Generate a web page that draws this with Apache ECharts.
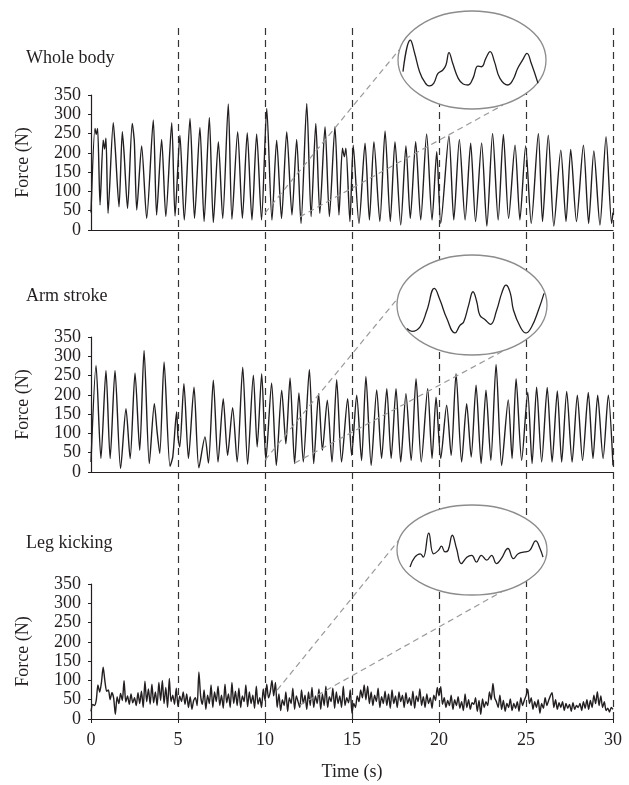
<!DOCTYPE html>
<html>
<head>
<meta charset="utf-8">
<title>Force traces</title>
<script src="https://cdn.jsdelivr.net/npm/echarts/dist/echarts.min.js"></script>
<style>
  html, body { margin: 0; padding: 0; background: #fff; }
  #chart { width: 629px; height: 785px; }
</style>
</head>
<body>
<div id="chart"></div>
<script>
// ---- data ----
const dashTimes = [5, 10, 15, 20, 25, 30]
const panelTitles = ['Whole body', 'Arm stroke', 'Leg kicking']

// whole body: [time (s), force (N)] at peaks / troughs
const wholeBody = [
  [0.0, 45], [0.23, 263], [0.3, 248], [0.38, 263], [0.52, 65], [0.7, 233], [0.78, 210], [0.86, 238],
  [0.98, 43], [1.28, 278], [1.4, 207], [1.61, 60], [1.8, 255], [1.9, 200], [2.1, 56], [2.37, 276],
  [2.49, 229], [2.63, 52], [2.91, 218], [3.2, 30], [3.58, 285], [3.77, 39], [4.06, 235], [4.3, 35],
  [4.64, 278], [4.83, 36], [5.11, 246], [5.36, 26], [5.69, 289], [5.95, 30], [6.26, 266], [6.5, 22],
  [6.8, 292], [7.03, 19], [7.32, 229], [7.57, 30], [7.89, 327], [8.1, 28], [8.43, 255], [8.7, 30],
  [8.98, 252], [9.25, 26], [9.52, 249], [9.8, 26], [10.1, 315], [10.4, 26], [10.67, 233], [10.95, 30],
  [11.25, 255], [11.55, 39], [11.82, 235], [12.07, 17], [12.4, 328], [12.65, 35], [12.92, 276], [13.15, 43],
  [13.45, 268], [13.7, 35], [14.02, 268], [14.25, 39], [14.45, 212], [14.56, 190], [14.65, 212], [14.88, 22],
  [15.07, 220], [15.4, 17], [15.75, 225], [16.0, 26], [16.26, 229], [16.6, 22], [16.9, 257], [17.2, 22],
  [17.47, 229], [17.8, 13], [18.1, 218], [18.35, 30], [18.66, 229], [18.95, 26], [19.29, 249], [19.6, 26],
  [19.87, 203], [20.1, 17], [20.57, 244], [20.85, 26], [21.17, 235], [21.5, 26], [21.82, 225], [22.1, 22],
  [22.45, 226], [22.75, 10], [23.08, 250], [23.4, 26], [23.7, 248], [24.0, 30], [24.37, 220], [24.65, 26],
  [24.98, 218], [25.3, 17], [25.71, 250], [25.95, 22], [26.28, 246], [26.6, 10], [27.0, 207], [27.3, 22],
  [27.57, 209], [27.9, 22], [28.3, 220], [28.6, 17], [28.9, 205], [29.25, 13], [29.6, 242], [29.92, 17],
  [30.0, 45]
]

// arm stroke: [time (s), force (N)]
const armStroke = [
  [0.0, 26], [0.29, 276], [0.57, 35], [0.86, 263], [1.1, 35], [1.38, 263], [1.7, 9], [2.01, 164],
  [2.25, 35], [2.53, 257], [2.8, 56], [3.05, 315], [3.35, 22], [3.64, 177], [3.8, 104], [3.95, 48],
  [4.2, 285], [4.54, 15], [4.7, 39], [4.92, 156], [5.0, 91], [5.1, 65], [5.34, 229], [5.6, 35],
  [5.92, 220], [6.2, 11], [6.55, 91], [6.75, 23], [7.03, 238], [7.3, 26], [7.6, 190], [7.85, 43],
  [8.14, 167], [8.4, 26], [8.72, 272], [9.0, 20], [9.33, 251], [9.55, 65], [9.81, 255], [10.05, 30],
  [10.38, 231], [10.65, 17], [10.96, 212], [11.2, 73], [11.44, 244], [11.7, 22], [11.95, 205], [12.2, 26],
  [12.55, 266], [12.8, 22], [13.08, 203], [13.3, 56], [13.58, 186], [13.85, 26], [14.12, 239], [14.4, 26],
  [14.75, 190], [14.98, 43], [15.27, 199], [15.55, 30], [15.8, 248], [16.1, 17], [16.42, 213], [16.7, 35],
  [17.0, 216], [17.25, 35], [17.53, 216], [17.8, 26], [18.1, 203], [18.4, 30], [18.68, 242], [18.98, 26],
  [19.35, 216], [19.6, 35], [19.83, 194], [20.1, 35], [20.44, 173], [20.7, 43], [20.98, 255], [21.3, 26],
  [21.59, 177], [21.85, 39], [22.13, 225], [22.42, 22], [22.7, 212], [22.98, 30], [23.28, 279], [23.6, 17],
  [23.98, 187], [24.2, 35], [24.43, 242], [24.75, 30], [25.1, 207], [25.35, 22], [25.61, 220], [25.9, 26],
  [26.22, 219], [26.5, 26], [26.8, 210], [27.05, 26], [27.34, 209], [27.65, 26], [27.95, 199], [28.25, 30],
  [28.58, 206], [28.85, 35], [29.12, 199], [29.43, 35], [29.73, 199], [30.0, 17]
]

// leg kicking: force (N) sampled every legStep seconds
const legStep = 0.1
const legKick = [
  20, 38, 35, 48, 88, 70, 95, 134, 98, 72,
  75, 50, 68, 55, 12, 58, 40, 66, 48, 99,
  44, 60, 38, 65, 42, 55, 35, 68, 40, 72,
  30, 98, 45, 78, 38, 90, 42, 70, 35, 95,
  48, 100, 40, 82, 30, 105, 45, 62, 38, 80,
  32, 60, 45, 70, 38, 65, 30, 58, 25, 48,
  55, 35, 122, 60, 38, 75, 25, 62, 40, 88,
  30, 70, 45, 85, 35, 62, 28, 90, 42, 65,
  30, 95, 40, 72, 35, 80, 30, 60, 45, 88,
  32, 70, 40, 62, 28, 85, 38, 55, 30, 78,
  48, 90, 55, 70, 100, 60, 95, 30, 65, 22,
  50, 35, 70, 20, 55, 40, 80, 25, 60, 45,
  30, 75, 40, 62, 25, 70, 35, 82, 30, 60,
  40, 78, 25, 65, 35, 85, 30, 58, 45, 80,
  28, 70, 40, 60, 30, 85, 35, 55, 42, 75,
  15, 40, 30, 60, 45, 75, 55, 88, 50, 85,
  40, 70, 35, 62, 45, 80, 30, 58, 40, 72,
  35, 65, 28, 75, 40, 60, 30, 70, 45, 62,
  30, 68, 40, 55, 35, 72, 28, 60, 45, 78,
  35, 58, 30, 65, 40, 55, 28, 62, 48, 82,
  60, 84, 38, 55, 30, 48, 35, 62, 25, 50,
  35, 58, 28, 45, 22, 65, 30, 50, 25, 42,
  38, 55, 20, 48, 12, 52, 30, 45, 35, 70,
  50, 92, 55, 45, 30, 62, 25, 48, 20, 40,
  30, 52, 22, 40, 28, 45, 20, 55, 35, 48,
  60, 77, 40, 55, 25, 45, 30, 50, 15, 40,
  28, 55, 35, 48, 60, 68, 30, 50, 25, 42,
  30, 45, 22, 40, 28, 38, 20, 42, 25, 35,
  30, 40, 22, 45, 28, 50, 25, 48, 30, 62,
  40, 71, 35, 60, 30, 45, 22, 28, 18, 30,
  25
]

// zoomed excerpts shown in the ellipses (time in s, force in N)
const wholeInset = [
  [10.0, 114], [10.12, 300], [10.19, 222], [10.27, 114], [10.35, 55], [10.43, 30], [10.5, 46], [10.57, 104],
  [10.65, 124], [10.7, 153], [10.75, 226], [10.81, 163], [10.9, 75], [10.98, 42], [11.06, 36], [11.14, 75],
  [11.22, 147], [11.28, 143], [11.35, 192], [11.42, 232], [11.49, 173], [11.58, 75], [11.71, 36], [11.79, 65],
  [11.87, 134], [11.95, 183], [12.02, 222], [12.09, 163], [12.2, 46]
]
const armInset = [
  [10.0, 55], [10.08, 39], [10.21, 64], [10.32, 158], [10.44, 281], [10.53, 215], [10.64, 111], [10.77, 30],
  [10.85, 73], [10.91, 92], [10.99, 187], [11.06, 262], [11.12, 206], [11.17, 130], [11.25, 106], [11.34, 79],
  [11.44, 158], [11.52, 253], [11.59, 300], [11.66, 253], [11.71, 158], [11.82, 64], [11.91, 30], [12.0, 64],
  [12.11, 158], [12.2, 253]
]
const legInset = [
  [10.0, 30], [10.08, 56], [10.17, 65], [10.22, 56], [10.31, 120], [10.39, 65], [10.47, 74], [10.52, 85],
  [10.58, 70], [10.63, 74], [10.7, 114], [10.77, 79], [10.85, 39], [10.94, 56], [11.02, 61], [11.1, 43],
  [11.18, 61], [11.27, 48], [11.35, 61], [11.43, 39], [11.51, 52], [11.62, 79], [11.71, 52], [11.79, 65],
  [11.9, 70], [11.98, 74], [12.08, 99], [12.15, 79], [12.2, 56]
]
// where the grey lead lines leave each trace [time, force]
const leadFrom = [
  [[10.0, 44], [12.0, 34]],
  [[10.0, 31], [11.7, 23]],
  [[10.7, 75], [12.0, 36]]
]

// ---- layout ----
const ink = '#231f20'
const serif = 'Liberation Serif'
const plotTops = [95, 337, 584]
const titleTops = [49, 287, 534]
const ellipses = [
  { cx: 472, cy: 60, rx: 74, ry: 49, ends: [[399, 50], [503, 105]] },
  { cx: 472, cy: 305, rx: 75, ry: 50, ends: [[398, 298], [503, 351]] },
  { cx: 472, cy: 550, rx: 75, ry: 45, ends: [[399, 540], [503, 591]] }
]
const insetBoxes = [
  { left: 403, top: 40, width: 135, height: 46, min: 30, max: 300 },
  { left: 407, top: 285, width: 137, height: 48, min: 30, max: 300 },
  { left: 410, top: 533, width: 133, height: 34, min: 30, max: 120 }
]

const legData = legKick.map((v, i) => [+(i * legStep).toFixed(1), v])
const traces = [wholeBody, armStroke, legData]
const insets = [wholeInset, armInset, legInset]

const grid = []
const xAxis = []
const yAxis = []
const series = []

plotTops.forEach((top, i) => {
  const last = i === 2
  grid.push({ left: 91, width: 522, top: top, height: 135 })
  xAxis.push({
    type: 'value', gridIndex: i, min: 0, max: 30, interval: 5,
    axisLine: { show: true, lineStyle: { color: ink, width: 1.2 } },
    axisTick: { show: last, length: 4, lineStyle: { color: ink } },
    axisLabel: { show: last, margin: 12, color: ink, fontFamily: serif, fontSize: 18 },
    splitLine: { show: false },
    name: last ? 'Time (s)' : '',
    nameLocation: 'middle',
    nameGap: 44,
    nameTextStyle: { color: ink, fontFamily: serif, fontSize: 18 }
  })
  yAxis.push({
    type: 'value', gridIndex: i, min: 0, max: 350, interval: 50,
    axisLine: { show: true, lineStyle: { color: ink, width: 1.2 } },
    axisTick: { show: true, length: 3, lineStyle: { color: ink } },
    axisLabel: { margin: 10, color: ink, fontFamily: serif, fontSize: 18 },
    splitLine: { show: false },
    name: 'Force (N)',
    nameLocation: 'middle',
    nameGap: 59,
    nameTextStyle: { color: ink, fontFamily: serif, fontSize: 18 }
  })
  series.push({
    type: 'line', xAxisIndex: i, yAxisIndex: i, data: traces[i],
    showSymbol: false, smooth: 0.25, z: 2, silent: true,
    lineStyle: { color: ink, width: 1.4 }
  })
})

// full-height grid that only carries the dashed time markers
grid.push({ left: 91, width: 522, top: 28, height: 691 })
xAxis.push({ type: 'value', gridIndex: 3, min: 0, max: 30, show: false })
yAxis.push({ type: 'value', gridIndex: 3, min: 0, max: 1, show: false })
series.push({
  type: 'line', xAxisIndex: 3, yAxisIndex: 3, data: [[0, 0]], showSymbol: false,
  lineStyle: { opacity: 0 }, z: 1, silent: true,
  markLine: {
    silent: true, z: 1, symbol: ['none', 'none'],
    label: { show: false },
    lineStyle: { type: [7, 5], color: '#333', width: 1.2 },
    data: dashTimes.map(t => ({ xAxis: t }))
  }
})

// inset grids inside the ellipses
insetBoxes.forEach((b, i) => {
  const k = 4 + i
  grid.push({ left: b.left, top: b.top, width: b.width, height: b.height })
  xAxis.push({ type: 'value', gridIndex: k, min: 10, max: 12.2, show: false })
  yAxis.push({ type: 'value', gridIndex: k, min: b.min, max: b.max, show: false })
  series.push({
    type: 'line', xAxisIndex: k, yAxisIndex: k, data: insets[i],
    showSymbol: false, smooth: 0.45, z: 10, silent: true,
    lineStyle: { color: ink, width: 1.3 }
  })
})

const chart = echarts.init(document.getElementById('chart'), null, { renderer: 'canvas' })
chart.setOption({
  animation: false,
  backgroundColor: '#fff',
  title: panelTitles.map((t, i) => ({
    text: t, left: 26, top: titleTops[i], padding: 0,
    textStyle: { color: ink, fontFamily: serif, fontSize: 18, fontWeight: 'normal' }
  })),
  grid: grid,
  xAxis: xAxis,
  yAxis: yAxis,
  series: series
})

// ellipses and grey lead lines (need pixel positions of the traces)
const graphics = []
ellipses.forEach((e, i) => {
  leadFrom[i].forEach((pt, j) => {
    const p = chart.convertToPixel({ gridIndex: i }, pt)
    graphics.push({
      type: 'line', id: 'lead' + i + j, z: 3, silent: true,
      shape: { x1: p[0], y1: p[1], x2: e.ends[j][0], y2: e.ends[j][1] },
      style: { stroke: '#9a9a9a', lineWidth: 1.2, lineDash: [6, 4] }
    })
  })
  graphics.push({
    type: 'ellipse', id: 'ell' + i, z: 8, silent: true,
    shape: { cx: e.cx, cy: e.cy, rx: e.rx, ry: e.ry },
    style: { fill: '#fff', stroke: '#8c8c8c', lineWidth: 1.3 }
  })
})
chart.setOption({ graphic: { elements: graphics } })
</script>
</body>
</html>
